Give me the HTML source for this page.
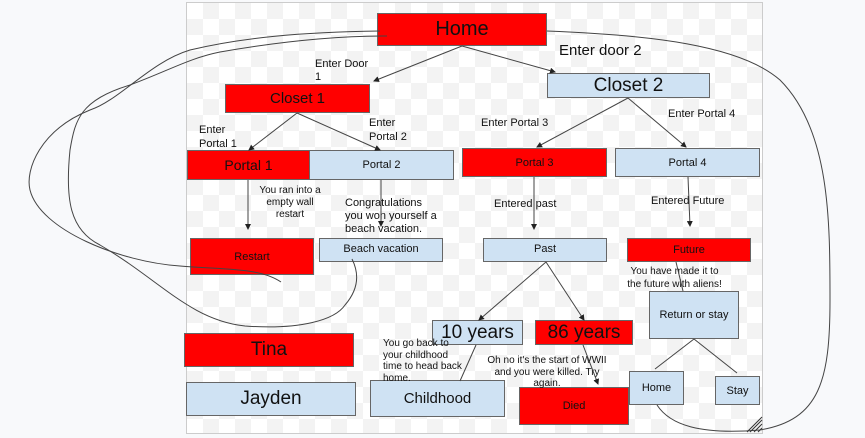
<!DOCTYPE html>
<html><head><meta charset="utf-8"><style>
body{margin:0;width:865px;height:438px;background:#f8f9fb;position:relative;overflow:hidden;font-family:"Liberation Sans",sans-serif;color:#111}
#cv{position:absolute;left:186px;top:2px;width:577px;height:432px;border:1px solid #ccc;box-sizing:border-box;background:repeating-conic-gradient(#f3f3f3 0 25%,#fff 0 50%) 0 0/32px 32px}
.b{position:absolute;box-sizing:border-box;border:1px solid #666;display:flex;align-items:center;justify-content:center;text-align:center}
.r{background:#ff0000}.l{background:#cfe2f3}
.t{position:absolute;font-size:11px;line-height:13px}
svg{position:absolute;left:0;top:0}
</style></head><body>
<div id="cv"></div>
<div class="b r" style="left:377px;top:13px;width:170px;height:33px;font-size:20px">Home</div>
<div class="b r" style="left:225px;top:84px;width:145px;height:29px;font-size:15px">Closet 1</div>
<div class="b l" style="left:547px;top:73px;width:163px;height:25px;font-size:19px">Closet 2</div>
<div class="b r" style="left:187px;top:150px;width:123px;height:30px;font-size:14px">Portal 1</div>
<div class="b l" style="left:309px;top:150px;width:145px;height:30px;font-size:11px">Portal 2</div>
<div class="b r" style="left:462px;top:148px;width:145px;height:29px;font-size:11px">Portal 3</div>
<div class="b l" style="left:615px;top:148px;width:145px;height:29px;font-size:11px">Portal 4</div>
<div class="b r" style="left:190px;top:238px;width:124px;height:37px;font-size:11px">Restart</div>
<div class="b l" style="left:319px;top:238px;width:124px;height:24px;font-size:11px;align-items:flex-start;padding-top:4px">Beach vacation</div>
<div class="b l" style="left:483px;top:238px;width:124px;height:24px;font-size:11px;align-items:flex-start;padding-top:4px">Past</div>
<div class="b r" style="left:627px;top:238px;width:124px;height:24px;font-size:11px">Future</div>
<div class="b l" style="left:649px;top:291px;width:90px;height:48px;font-size:11px">Return or stay</div>
<div class="b l" style="left:432px;top:320px;width:91px;height:25px;font-size:19px">10 years</div>
<div class="b r" style="left:535px;top:320px;width:98px;height:25px;font-size:19px">86 years</div>
<div class="b r" style="left:184px;top:333px;width:170px;height:34px;font-size:19px">Tina</div>
<div class="b l" style="left:186px;top:382px;width:170px;height:34px;font-size:19px">Jayden</div>
<div class="b l" style="left:370px;top:380px;width:135px;height:37px;font-size:15px">Childhood</div>
<div class="b r" style="left:519px;top:387px;width:110px;height:38px;font-size:11px">Died</div>
<div class="b l" style="left:629px;top:371px;width:55px;height:34px;font-size:11px">Home</div>
<div class="b l" style="left:715px;top:376px;width:45px;height:29px;font-size:11px">Stay</div>

<div class="t" style="left:315px;top:58px">Enter Door<br>1</div>
<div class="t" style="left:559px;top:42px;font-size:15px;line-height:18px">Enter door 2</div>
<div class="t" style="left:481px;top:117px">Enter Portal 3</div>
<div class="t" style="left:668px;top:108px">Enter Portal 4</div>
<div class="t" style="left:199px;top:123px;line-height:14px">Enter<br>Portal 1</div>
<div class="t" style="left:369px;top:116px;line-height:14px">Enter<br>Portal 2</div>
<div class="t" style="left:250px;top:185px;width:80px;text-align:center;font-size:10px;line-height:12px">You ran into a<br>empty wall<br>restart</div>
<div class="t" style="left:345px;top:197px;width:110px;line-height:13px">Congratulations<br>you won yourself a<br>beach vacation.</div>
<div class="t" style="left:494px;top:198px">Entered past</div>
<div class="t" style="left:651px;top:195px">Entered Future</div>
<div class="t" style="left:607px;top:265px;width:135px;text-align:center;line-height:13px;font-size:10px">You have made it to<br>the future with aliens!</div>
<div class="t" style="left:383px;top:338px;width:85px;font-size:10px;line-height:11.5px">You go back to<br>your childhood<br>time to head back<br>home.</div>
<div class="t" style="left:482px;top:355px;width:130px;text-align:center;font-size:10px;line-height:11.5px">Oh no it's the start of WWII<br>and you were killed. Try<br>again.</div>

<svg width="865" height="438" viewBox="0 0 865 438">
<defs><marker id="a" markerWidth="6" markerHeight="6" refX="5" refY="3" orient="auto"><path d="M0,0 L6,3 L0,6z" fill="#222"/></marker></defs>
<g stroke="#444" stroke-width="1" fill="none">
<path d="M462,46 L374,81" marker-end="url(#a)"/>
<path d="M462,46 L555,72" marker-end="url(#a)"/>
<path d="M297,113 L249,150" marker-end="url(#a)"/>
<path d="M297,113 L380,150" marker-end="url(#a)"/>
<path d="M628,98 L537,147" marker-end="url(#a)"/>
<path d="M628,98 L686,147" marker-end="url(#a)"/>
<path d="M248,180 L248,229" marker-end="url(#a)"/>
<path d="M381,180 L381,226" marker-end="url(#a)"/>
<path d="M534,177 L534,229" marker-end="url(#a)"/>
<path d="M688,177 L690,226" marker-end="url(#a)"/>
<path d="M546,262 L479,320" marker-end="url(#a)"/>
<path d="M546,262 L584,320" marker-end="url(#a)"/>
<path d="M676,262 L683,291"/>
<path d="M476,345 L460,381"/>
<path d="M583,345 L598,384" marker-end="url(#a)"/>
<path d="M694,339 L655,369 M694,339 L737,373"/>
<path d="M380,31 C300,32 240,38 190,50 C150,62 120,100 90,110 C40,130 25,170 30,190 C40,230 120,262 180,266 C230,270 260,268 281,282"/>
<path d="M387,36 C320,36 260,45 220,52 C190,58 170,70 130,85 C80,100 75,120 70,150 C65,200 70,230 100,245 C160,280 190,320 245,326 C300,330 335,320 345,305 C358,290 360,275 352,259"/>
<path d="M547,31 C650,35 740,45 780,80 C830,130 830,220 830,300 C830,380 820,420 760,430 C700,435 670,425 657,405"/>
</g>
<path d="M750,432 L762,420 M754,432 L762,424 M758,432 L762,428 M747,432 L762,417" stroke="#333" stroke-width="1"/>
</svg>
</body></html>
